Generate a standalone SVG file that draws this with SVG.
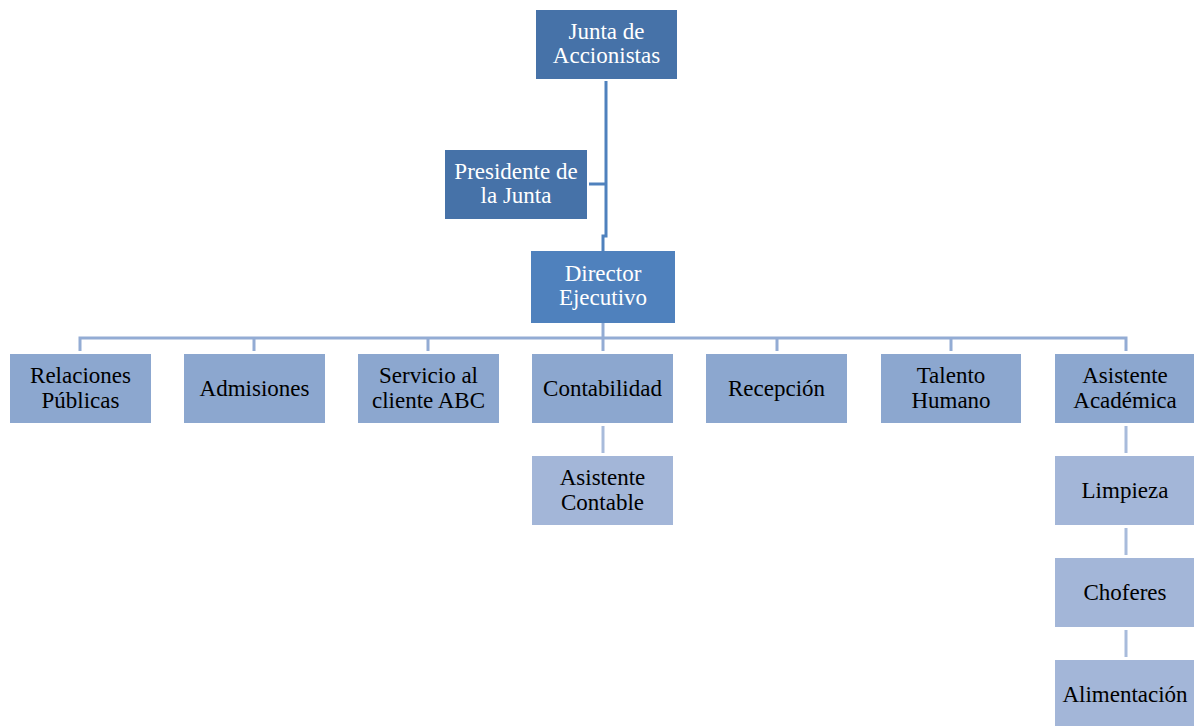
<svg xmlns="http://www.w3.org/2000/svg" width="1194" height="726" viewBox="0 0 1194 726">
<style>
.w{fill:#ffffff}
.k{fill:#000000}
.top{fill:#4672a8}
.dir{fill:#4f81bd}
.l2{fill:#8ca7cf}
.l3{fill:#a3b6d8}
.c1{stroke:#4f81bd;stroke-width:3;fill:none}
.c2{stroke:#93acd4;stroke-width:3;fill:none}
.c3{stroke:#a8bbdb;stroke-width:3;fill:none}
</style>
<rect width="1194" height="726" fill="#ffffff"/>
<g id="connectors">
<path class="c1" d="M606,81 V236 H603 V251"/>
<path class="c1" d="M589,184 H606"/>
<path class="c2" d="M603,323 V338"/>
<path class="c2" d="M80,351 V338 H1126 V351"/>
<path class="c2" d="M254,338 V351 M428,338 V351 M603,338 V351 M777,338 V351 M951,338 V351"/>
<path class="c3" d="M603,426 V453"/>
<path class="c3" d="M1126,426 V453 M1126,528 V555 M1126,630 V657"/>
</g>
<g font-family="Liberation Serif, serif" font-size="23" text-anchor="middle">
<g id="junta"><rect class="top" x="536" y="10" width="141" height="69"/><text class="w" x="606.5" y="39">Junta de</text><text class="w" x="606.5" y="63">Accionistas</text></g>
<g id="presidente"><rect class="top" x="445" y="150" width="142" height="69"/><text class="w" x="516" y="179">Presidente de</text><text class="w" x="516" y="203">la Junta</text></g>
<g id="director"><rect class="dir" x="531" y="251" width="144" height="72"/><text class="w" x="603" y="281">Director</text><text class="w" x="603" y="305">Ejecutivo</text></g>
<g id="relaciones"><rect class="l2" x="10" y="354" width="141" height="69"/><text class="k" x="80.5" y="383">Relaciones</text><text class="k" x="80.5" y="408">Públicas</text></g>
<g id="admisiones"><rect class="l2" x="184" y="354" width="141" height="69"/><text class="k" x="254.5" y="396">Admisiones</text></g>
<g id="servicio"><rect class="l2" x="358" y="354" width="141" height="69"/><text class="k" x="428.5" y="383">Servicio al</text><text class="k" x="428.5" y="408">cliente ABC</text></g>
<g id="contabilidad"><rect class="l2" x="532" y="354" width="141" height="69"/><text class="k" x="602.5" y="396">Contabilidad</text></g>
<g id="recepcion"><rect class="l2" x="706" y="354" width="141" height="69"/><text class="k" x="776.5" y="396">Recepción</text></g>
<g id="talento"><rect class="l2" x="881" y="354" width="140" height="69"/><text class="k" x="951" y="383">Talento</text><text class="k" x="951" y="408">Humano</text></g>
<g id="asistente-academica"><rect class="l2" x="1055" y="354" width="140" height="69"/><text class="k" x="1125" y="383">Asistente</text><text class="k" x="1125" y="408">Académica</text></g>
<g id="asistente-contable"><rect class="l3" x="532" y="456" width="141" height="69"/><text class="k" x="602.5" y="485">Asistente</text><text class="k" x="602.5" y="510">Contable</text></g>
<g id="limpieza"><rect class="l3" x="1055" y="456" width="140" height="69"/><text class="k" x="1125" y="498">Limpieza</text></g>
<g id="choferes"><rect class="l3" x="1055" y="558" width="140" height="69"/><text class="k" x="1125" y="600">Choferes</text></g>
<g id="alimentacion"><rect class="l3" x="1055" y="660" width="140" height="66"/><text class="k" x="1125" y="702">Alimentación</text></g>
</g>
</svg>
